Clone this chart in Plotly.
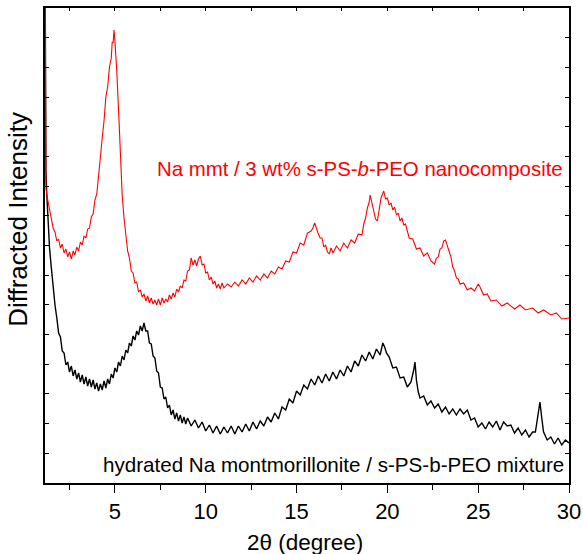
import plotly.graph_objects as go

# 2-theta (degree) and diffracted intensity (arbitrary units)
x_red = [1.16, 1.2, 1.25, 1.3, 1.4, 1.5, 1.6, 1.7, 1.8, 1.9, 2.0, 2.1, 2.2, 2.3, 2.4, 2.5, 2.6, 2.7, 2.8, 2.9,
         3.0, 3.1, 3.2, 3.3, 3.4, 3.5, 3.6, 3.7, 3.8, 3.9, 4.0, 4.1, 4.2, 4.3, 4.4, 4.5, 4.6, 4.7, 4.8, 4.85,
         4.9, 4.95, 5.0, 5.05, 5.1, 5.2, 5.3, 5.4, 5.5, 5.6, 5.7, 5.8, 5.9, 6.0, 6.1, 6.2, 6.3, 6.4, 6.5, 6.6,
         6.7, 6.8, 6.9, 7.0, 7.1, 7.2, 7.3, 7.4, 7.5, 7.6, 7.7, 7.8, 7.9, 8.0, 8.1, 8.2, 8.3, 8.4, 8.5, 8.6,
         8.7, 8.8, 8.9, 9.0, 9.1, 9.2, 9.3, 9.4, 9.5, 9.6, 9.7, 9.8, 9.9, 10.0, 10.1, 10.2, 10.3, 10.4, 10.5,
         10.6, 10.7, 10.8, 10.9, 11.0, 11.2, 11.4, 11.6, 11.8, 12.0, 12.2, 12.4, 12.6, 12.8, 13.0, 13.2, 13.4,
         13.6, 13.8, 14.0, 14.2, 14.4, 14.6, 14.8, 15.0, 15.2, 15.4, 15.6, 15.8, 15.9, 16.0, 16.1, 16.2, 16.3,
         16.4, 16.5, 16.6, 16.7, 16.8, 16.9, 17.0, 17.2, 17.4, 17.6, 17.8, 18.0, 18.2, 18.4, 18.6, 18.7, 18.8,
         18.9, 19.0, 19.05, 19.15, 19.25, 19.35, 19.45, 19.55, 19.65, 19.8, 19.9, 20.0, 20.1, 20.2, 20.3, 20.4,
         20.5, 20.6, 20.7, 20.8, 20.9, 21.0, 21.2, 21.4, 21.6, 21.8, 22.0, 22.2, 22.4, 22.6, 22.7, 22.8, 22.9,
         23.0, 23.1, 23.2, 23.3, 23.4, 23.5, 23.6, 23.7, 23.8, 23.9, 24.0, 24.2, 24.4, 24.6, 24.8, 25.0, 25.1,
         25.3, 25.5, 25.7, 26.0, 26.3, 26.6, 27.0, 27.3, 27.6, 28.0, 28.3, 28.6, 29.0, 29.3, 29.6, 30.0]
i_red = [500, 296, 288, 283, 271, 262, 255, 251, 242, 244, 235, 239, 230, 234, 226, 231, 224, 232, 228, 236,
         232, 241, 238, 247, 245, 254, 255, 266, 269, 283, 289, 307, 323, 345, 362, 386, 396, 416, 425, 441,
         440, 453, 442, 428, 413, 373, 328, 288, 265, 250, 232, 225, 212, 210, 200, 201, 191, 193, 186, 189,
         182, 187, 180, 185, 179, 183, 178, 184, 178, 185, 180, 184, 181, 188, 184, 190, 186, 194, 191, 197,
         195, 203, 202, 212, 213, 225, 218, 223, 217, 224, 227, 218, 219, 210, 211, 203, 206, 199, 202,
         195, 199, 194, 200, 195, 199, 196, 201, 197, 203, 199, 205, 201, 207, 203, 209, 205,
         212, 209, 216, 214, 222, 221, 231, 230, 240, 238, 250, 252, 255, 260, 253, 249, 245,
         245, 236, 238, 231, 229, 235, 230, 237, 232, 240, 235, 243, 240, 249, 248, 259, 265,
         275, 281, 288, 280, 270, 264, 262, 275, 285, 292, 284, 285, 278, 280, 273, 276,
         268, 270, 262, 265, 258, 259, 245, 244, 234, 235, 227, 230, 222, 219, 225, 226, 234,
         235, 242, 243, 238, 231, 226, 216, 212, 205, 204, 199, 200, 193, 195, 192, 199, 196,
         188, 189, 182, 183, 177, 180, 174, 178, 173, 175, 170, 173, 168, 170, 164, 165]

x_blk = [1.16, 1.2, 1.25, 1.3, 1.35, 1.4, 1.5, 1.6, 1.7, 1.8, 1.9, 2.0, 2.1, 2.2, 2.3, 2.4, 2.5, 2.6, 2.7, 2.8,
         2.9, 3.0, 3.1, 3.2, 3.3, 3.4, 3.5, 3.6, 3.7, 3.8, 3.9, 4.0, 4.1, 4.2, 4.3, 4.4, 4.5, 4.6, 4.7, 4.8,
         4.9, 5.0, 5.1, 5.2, 5.3, 5.4, 5.5, 5.6, 5.7, 5.8, 5.9, 6.0, 6.1, 6.2, 6.3, 6.4, 6.5, 6.6, 6.7, 6.8,
         6.9, 7.0, 7.1, 7.2, 7.3, 7.4, 7.5, 7.6, 7.7, 7.8, 7.9, 8.0, 8.1, 8.2, 8.3, 8.4, 8.5, 8.6, 8.7, 8.8,
         8.9, 9.0, 9.2, 9.4, 9.6, 9.8, 10.0, 10.2, 10.4, 10.6, 10.8, 11.0, 11.2, 11.4, 11.6, 11.8, 12.0, 12.2,
         12.4, 12.6, 12.8, 13.0, 13.2, 13.4, 13.6, 13.8, 14.0, 14.2, 14.4, 14.6, 14.8, 15.0, 15.2, 15.4, 15.6,
         15.8, 16.0, 16.2, 16.4, 16.6, 16.8, 17.0, 17.2, 17.4, 17.6, 17.8, 18.0, 18.2, 18.4, 18.6, 18.8, 19.0,
         19.2, 19.4, 19.6, 19.75, 19.85, 19.95, 20.1, 20.3, 20.5, 20.7, 20.9, 21.1, 21.3, 21.45, 21.52, 21.6,
         21.7, 21.8, 22.0, 22.2, 22.4, 22.6, 22.8, 23.0, 23.2, 23.4, 23.6, 23.8, 24.0, 24.2, 24.4, 24.6, 24.8,
         25.0, 25.2, 25.4, 25.6, 25.8, 26.0, 26.2, 26.4, 26.6, 26.8, 27.0, 27.2, 27.4, 27.6, 27.8, 28.0, 28.15,
         28.3, 28.4, 28.5, 28.6, 28.8, 29.0, 29.2, 29.4, 29.6, 29.8, 30.0]
i_blk = [500, 313, 288, 268, 250, 235, 215, 193, 178, 165, 150, 146, 132, 130, 118, 121, 111, 117, 107, 113,
         104, 110, 101, 108, 99, 106, 97, 104, 96, 103, 94, 100, 92, 99, 93, 102, 95, 104, 99, 109,
         105, 115, 111, 121, 117, 127, 123, 133, 130, 140, 137, 147, 143, 152, 148, 157, 152, 160, 152, 152,
         140, 139, 127, 125, 112, 110, 96, 95, 84, 86, 75, 78, 68, 73, 64, 70, 62, 68, 60, 66,
         59, 65, 57, 63, 55, 61, 52, 58, 50, 57, 49, 56, 50, 57, 49, 57, 51, 59,
         52, 61, 54, 62, 57, 66, 61, 70, 64, 76, 73, 84, 80, 92, 88, 98, 94,
         104, 98, 107, 100, 109, 102, 111, 104, 113, 107, 117, 111, 122, 117, 128, 122, 131,
         124, 134, 128, 140, 136, 130, 126, 115, 116, 105, 106, 96, 101, 113, 121, 103,
         91, 85, 87, 78, 82, 75, 79, 71, 76, 69, 74, 68, 74, 69, 73, 63, 65,
         56, 60, 54, 61, 56, 62, 53, 61, 57, 58, 50, 55, 48, 53, 46, 51, 51,
         68, 81, 65, 51, 43, 46, 39, 45, 38, 43, 40]

x_ticks = [5, 10, 15, 20, 25, 30]
label_red = "Na mmt / 3 wt% s-PS-<i>b</i>-PEO nanocomposite"
label_blk = "hydrated Na montmorillonite / s-PS-b-PEO mixture"

FONT = "Liberation Sans, Arial, sans-serif"

fig = go.Figure()
fig.add_trace(go.Scatter(x=x_blk, y=i_blk, mode="lines", line=dict(color="black", width=1.4),
                         showlegend=False, hoverinfo="skip"))
fig.add_trace(go.Scatter(x=x_red, y=i_red, mode="lines", line=dict(color="#ff0000", width=1.1),
                         showlegend=False, hoverinfo="skip"))
# helper trace so the top axis is drawn
fig.add_trace(go.Scatter(x=[x_ticks[0]], y=[0], xaxis="x2", mode="markers",
                         marker=dict(opacity=0), showlegend=False, hoverinfo="skip"))

fig.update_layout(
    width=583, height=554,
    margin=dict(l=45, r=14, t=8, b=71, autoexpand=False),
    paper_bgcolor="white", plot_bgcolor="white",
    font=dict(family=FONT, color="black"),
    xaxis=dict(range=[1.15, 30], tickmode="array", tickvals=x_ticks, automargin=False,
               ticks="outside", ticklen=8, tickwidth=1, tickcolor="black",
               minor=dict(tickmode="array", tickvals=[2.5, 7.5, 12.5, 17.5, 22.5, 27.5],
                          ticks="outside", ticklen=5, tickcolor="black", tickwidth=1),
               showline=True, linecolor="black", linewidth=1.5, showgrid=False, zeroline=False,
               tickfont=dict(size=22, family=FONT)),
    xaxis2=dict(range=[1.15, 30], overlaying="x", side="top", tickmode="array", automargin=False,
                tickvals=[2.5, 5, 7.5, 10, 12.5, 15, 17.5, 20, 22.5, 25, 27.5, 30],
                ticks="inside", ticklen=3, tickcolor="black", showticklabels=False,
                showline=True, linecolor="black", linewidth=1.5, showgrid=False, zeroline=False),
    yaxis=dict(range=[0, 475], tick0=0, dtick=475 / 16, ticks="inside", ticklen=4, automargin=False,
               tickcolor="black", showticklabels=False, mirror="ticks",
               showline=True, linecolor="black", linewidth=1.5, showgrid=False, zeroline=False),
    annotations=[
        dict(text=label_red, xref="paper", yref="paper", x=0.992, y=0.661,
             xanchor="right", yanchor="middle", showarrow=False,
             font=dict(size=20.4, color="#ff0000", family=FONT)),
        dict(text=label_blk, xref="paper", yref="paper", x=0.995, y=0.040,
             xanchor="right", yanchor="middle", showarrow=False,
             font=dict(size=20.6, color="black", family=FONT)),
        dict(text="Diffracted Intensity", xref="paper", yref="paper", x=-0.0515, y=0.554,
             xanchor="center", yanchor="middle", textangle=-90, showarrow=False,
             font=dict(size=26, color="black", family=FONT)),
        dict(text="2θ (degree)", xref="paper", yref="paper", x=0.496, y=-0.126,
             xanchor="center", yanchor="middle", showarrow=False,
             font=dict(size=22.5, color="black", family=FONT)),
    ],
)

fig.write_html("out.html", config={"displayModeBar": False},
               post_script="document.body.style.margin='0';")
